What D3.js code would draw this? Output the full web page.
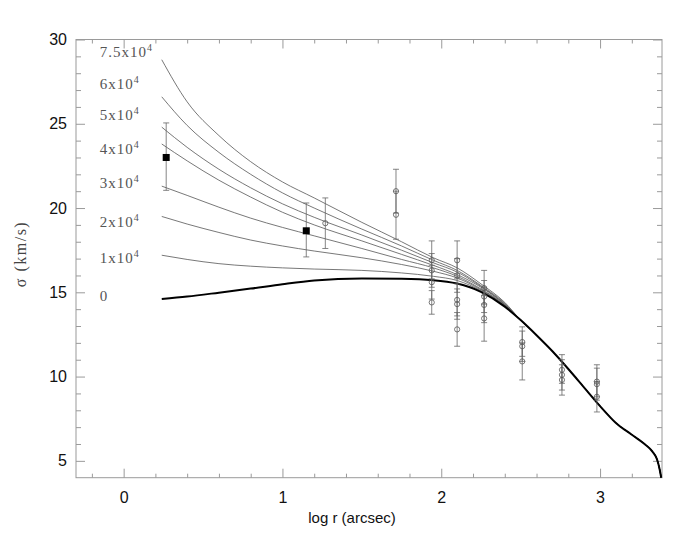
<!DOCTYPE html>
<html>
<head>
<meta charset="utf-8">
<script src="https://cdn.jsdelivr.net/npm/d3@7"></script>
<style>
	body { margin: 0; background: #fff; }
	svg { display: block; }
</style>
</head>
<body>
<script>
// model curves: log r sample points and sigma for each mass value
var logR = [0.24, 0.4, 0.6, 0.8, 1.0, 1.2, 1.5, 1.75, 1.95, 2.1, 2.25, 2.4]
var tailR = [2.5, 2.6, 2.7, 2.8, 2.9, 3.0, 3.1, 3.2, 3.28, 3.33, 3.36, 3.375, 3.385]
var tailSigma = [13.35, 12.45, 11.5, 10.45, 9.35, 8.25, 7.25, 6.55, 6.0, 5.55, 5.05, 4.5, 4.0]

var sigma75 = [28.8, 26.3, 24.3, 22.75, 21.55, 20.6, 19.15, 18.0, 17.05, 16.45, 15.5, 14.4]
var sigma60 = [26.6, 24.9, 23.3, 22.0, 20.9, 20.0, 18.75, 17.75, 16.9, 16.3, 15.4, 14.35]
var sigma50 = [24.8, 23.6, 22.3, 21.2, 20.25, 19.45, 18.4, 17.5, 16.75, 16.2, 15.35, 14.3]
var sigma40 = [23.8, 22.8, 21.65, 20.65, 19.75, 19.0, 18.05, 17.25, 16.6, 16.05, 15.3, 14.28]
var sigma30 = [21.3, 20.75, 20.05, 19.4, 18.85, 18.35, 17.6, 16.95, 16.45, 15.95, 15.2, 14.25]
var sigma20 = [19.5, 19.05, 18.55, 18.1, 17.75, 17.45, 17.05, 16.65, 16.25, 15.85, 15.15, 14.22]
var sigma10 = [17.2, 16.95, 16.7, 16.55, 16.45, 16.38, 16.3, 16.15, 15.95, 15.7, 15.1, 14.2]
var sigma0 = [14.6, 14.75, 14.98, 15.22, 15.48, 15.7, 15.82, 15.8, 15.72, 15.52, 15.03, 14.15]

var curveLabels = ['7.5x10', '6x10', '5x10', '4x10', '3x10', '2x10', '1x10', '0']
var labelSigma = [29.28, 27.34, 25.52, 23.48, 21.48, 19.19, 17.03, 14.77]

// measurements: [log r, sigma, low, high]
var filledPts = [
	[0.268, 23.0, 21.05, 25.05],
	[1.15, 18.65, 17.1, 20.3]
]
var openPts = [
	[1.27, 19.1, 17.6, 20.6],
	[1.715, 21.0, 19.7, 22.3],
	[1.715, 19.6, 18.15, 21.0],
	[1.94, 16.9, 15.8, 18.05],
	[1.94, 16.3, 15.3, 17.3],
	[1.94, 15.6, 14.6, 16.6],
	[1.94, 14.4, 13.7, 15.1],
	[2.10, 16.9, 15.8, 18.05],
	[2.10, 16.0, 15.0, 17.0],
	[2.10, 14.55, 13.6, 15.5],
	[2.10, 14.3, 13.4, 15.2],
	[2.10, 12.8, 11.8, 13.8],
	[2.27, 15.25, 14.3, 16.3],
	[2.27, 14.75, 13.8, 15.7],
	[2.27, 14.25, 13.2, 15.3],
	[2.27, 13.45, 12.1, 14.8],
	[2.51, 12.05, 11.2, 12.95],
	[2.51, 11.8, 10.9, 12.7],
	[2.51, 10.9, 9.8, 12.0],
	[2.76, 10.4, 9.6, 11.3],
	[2.76, 10.1, 9.2, 11.0],
	[2.76, 9.8, 8.9, 10.7],
	[2.98, 9.7, 8.8, 10.7],
	[2.98, 9.55, 8.6, 10.5],
	[2.98, 8.8, 7.9, 9.7]
]

var xMajor = [0, 1, 2, 3]
var yMajor = [5, 10, 15, 20, 25, 30]

var W = 700, H = 550
var pLeft = 76, pRight = 662, pTop = 39.5, pBottom = 477.7

var x = d3.scaleLinear().domain([-0.3, 3.39]).range([pLeft, pRight])
var y = d3.scaleLinear().domain([4, 30]).range([pBottom, pTop])

var svg = d3.select('body').append('svg')
	.attr('width', W)
	.attr('height', H)

var frameColor = '#9a9a9a'

// frame
svg.append('rect')
	.attr('x', pLeft).attr('y', pTop)
	.attr('width', pRight - pLeft).attr('height', pBottom - pTop)
	.attr('fill', 'none')
	.attr('stroke', frameColor)
	.attr('stroke-width', 1)

function styleAxis(g) {
	g.select('.domain').remove()
	g.selectAll('.tick line').attr('stroke', frameColor)
	g.selectAll('.tick text')
		.attr('fill', '#111')
		.style('font-family', '"Liberation Sans", Arial, sans-serif')
		.style('font-size', '16px')
}

var xMinor = d3.range(-0.2, 3.39, 0.2).filter(function(v) { return Math.abs(v - Math.round(v)) > 0.01 })
var yMinor = d3.range(5, 30, 1).filter(function(v) { return v % 5 !== 0 })

// bottom
svg.append('g').attr('transform', 'translate(0,' + pBottom + ')')
	.call(d3.axisBottom(x).tickValues(xMajor).tickSize(-9).tickPadding(14).tickFormat(d3.format('d')))
	.call(styleAxis)
svg.append('g').attr('transform', 'translate(0,' + pBottom + ')')
	.call(d3.axisBottom(x).tickValues(xMinor).tickSize(-4).tickFormat(''))
	.call(styleAxis)
// top
svg.append('g').attr('transform', 'translate(0,' + pTop + ')')
	.call(d3.axisTop(x).tickValues(xMajor).tickSize(-9).tickFormat(''))
	.call(styleAxis)
svg.append('g').attr('transform', 'translate(0,' + pTop + ')')
	.call(d3.axisTop(x).tickValues(xMinor).tickSize(-4).tickFormat(''))
	.call(styleAxis)
// left
svg.append('g').attr('transform', 'translate(' + pLeft + ',0)')
	.call(d3.axisLeft(y).tickValues(yMajor).tickSize(-9).tickPadding(9))
	.call(styleAxis)
svg.append('g').attr('transform', 'translate(' + pLeft + ',0)')
	.call(d3.axisLeft(y).tickValues(yMinor).tickSize(-5).tickFormat(''))
	.call(styleAxis)
// right
svg.append('g').attr('transform', 'translate(' + pRight + ',0)')
	.call(d3.axisRight(y).tickValues(yMajor).tickSize(-9).tickFormat(''))
	.call(styleAxis)
svg.append('g').attr('transform', 'translate(' + pRight + ',0)')
	.call(d3.axisRight(y).tickValues(yMinor).tickSize(-5).tickFormat(''))
	.call(styleAxis)

// axis titles
svg.append('text')
	.attr('x', 352).attr('y', 523)
	.attr('text-anchor', 'middle')
	.attr('fill', '#111')
	.style('font-family', '"Liberation Sans", Arial, sans-serif')
	.style('font-size', '15px')
	.text('log r (arcsec)')

svg.append('text')
	.attr('transform', 'translate(26,254) rotate(-90)')
	.attr('text-anchor', 'middle')
	.attr('fill', '#444')
	.style('font-family', '"Liberation Serif", "DejaVu Serif", serif')
	.style('font-size', '16px')
	.style('letter-spacing', '1.5px')
	.text('σ (km/s)')

// model curves
var line = d3.line()
	.x(function(d) { return x(d[0]) })
	.y(function(d) { return y(d[1]) })
	.curve(d3.curveMonotoneX)

function track(vals) {
	var pts = logR.map(function(r, i) { return [r, vals[i]] })
	return pts.concat(tailR.map(function(r, i) { return [r, tailSigma[i]] }))
}

var thin = [sigma75, sigma60, sigma50, sigma40, sigma30, sigma20, sigma10]

svg.append('g').selectAll('path')
	.data(thin)
	.enter()
	.append('path')
	.attr('d', function(d) { return line(track(d)) })
	.attr('fill', 'none')
	.attr('stroke', '#555')
	.attr('stroke-width', 0.8)

svg.append('path')
	.attr('d', line(track(sigma0)))
	.attr('fill', 'none')
	.attr('stroke', '#000')
	.attr('stroke-width', 2)

// curve labels
var lab = svg.append('g').selectAll('text')
	.data(curveLabels)
	.enter()
	.append('text')
	.attr('x', x(-0.15))
	.attr('y', function(d, i) { return y(labelSigma[i]) + 5 })
	.attr('fill', '#555')
	.style('font-family', '"Liberation Serif", "DejaVu Serif", serif')
	.style('font-size', '15px')
	.style('letter-spacing', '1px')
	.text(function(d) { return d })
lab.filter(function(d) { return d !== '0' })
	.append('tspan')
	.attr('dy', -6)
	.style('font-size', '10px')
	.text('4')

// error bars
function errBars(sel, data) {
	var g = sel.append('g')
		.attr('stroke', '#666')
		.attr('stroke-width', 0.8)
	g.selectAll('line.v').data(data).enter().append('line')
		.attr('x1', function(d) { return x(d[0]) })
		.attr('x2', function(d) { return x(d[0]) })
		.attr('y1', function(d) { return y(d[2]) })
		.attr('y2', function(d) { return y(d[3]) })
	g.selectAll('line.lo').data(data).enter().append('line')
		.attr('x1', function(d) { return x(d[0]) - 3 })
		.attr('x2', function(d) { return x(d[0]) + 3 })
		.attr('y1', function(d) { return y(d[2]) })
		.attr('y2', function(d) { return y(d[2]) })
	g.selectAll('line.hi').data(data).enter().append('line')
		.attr('x1', function(d) { return x(d[0]) - 3 })
		.attr('x2', function(d) { return x(d[0]) + 3 })
		.attr('y1', function(d) { return y(d[3]) })
		.attr('y2', function(d) { return y(d[3]) })
}
errBars(svg, openPts)
errBars(svg, filledPts)

svg.append('g').selectAll('circle')
	.data(openPts)
	.enter()
	.append('circle')
	.attr('cx', function(d) { return x(d[0]) })
	.attr('cy', function(d) { return y(d[1]) })
	.attr('r', 2.6)
	.attr('fill', 'none')
	.attr('stroke', '#555')
	.attr('stroke-width', 0.8)

svg.append('g').selectAll('rect')
	.data(filledPts)
	.enter()
	.append('rect')
	.attr('x', function(d) { return x(d[0]) - 3.5 })
	.attr('y', function(d) { return y(d[1]) - 3.5 })
	.attr('width', 7)
	.attr('height', 7)
	.attr('fill', '#000')
</script>
</body>
</html>
